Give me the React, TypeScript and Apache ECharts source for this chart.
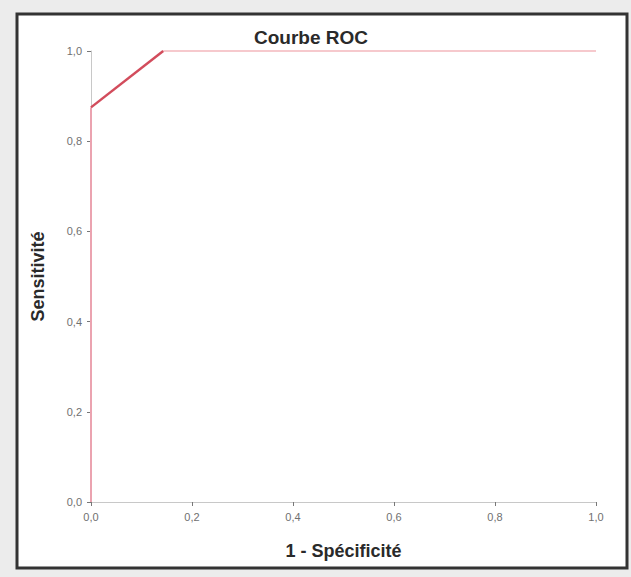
import React, { useEffect, useRef } from "react";
import * as echarts from "echarts";

const fpr = [0, 0, 0.143, 1];
const tpr = [0, 0.875, 1, 1];
const segmentColors = ["#eba3b0", "#d24c5c", "#f6c9cd"];
const segmentWidths = [2, 2.5, 2];

const fmt = (v: number) => v.toFixed(1).replace(".", ",");
const FONT = "'Liberation Sans', Arial, sans-serif";

export default function App() {
  const ref = useRef<HTMLDivElement>(null);
  useEffect(() => {
    document.body.style.margin = "0";
    const chart = echarts.init(ref.current!, undefined, { renderer: "svg" });
    const series = segmentColors.map((c, i) => ({
      type: "line",
      data: [
        [fpr[i], tpr[i]],
        [fpr[i + 1], tpr[i + 1]],
      ],
      showSymbol: false,
      symbol: "none",
      lineStyle: { color: c, width: segmentWidths[i] },
      z: i === 1 ? 3 : 2,
    }));
    chart.setOption({
      animation: false,
      backgroundColor: "#ececec",
      graphic: [
        {
          type: "rect",
          shape: { x: 17, y: 14, width: 610, height: 554 },
          style: { fill: "#ffffff", stroke: "#333333", lineWidth: 3 },
          z: -10,
          silent: true,
        },
        {
          type: "text",
          x: 311,
          y: 37,
          style: {
            text: "Courbe ROC",
            font: `bold 19px ${FONT}`,
            fill: "#2a2a2a",
            textAlign: "center",
            textVerticalAlign: "middle",
          },
        },
      ],
      grid: { left: 91, right: 35, top: 51, bottom: 75 },
      xAxis: {
        type: "value",
        min: 0,
        max: 1,
        interval: 0.2,
        name: "1 - Spécificité",
        nameLocation: "middle",
        nameGap: 40,
        nameTextStyle: {
          fontFamily: FONT,
          fontWeight: "bold",
          fontSize: 18,
          color: "#2a2a2a",
        },
        axisLine: { show: true, lineStyle: { color: "#c8c8c8", width: 1 } },
        axisTick: { show: true, length: 4, lineStyle: { color: "#777" } },
        axisLabel: {
          formatter: (v: number) => fmt(v),
          color: "#707070",
          fontSize: 11,
          margin: 9,
          fontFamily: FONT,
          showMinLabel: true,
          showMaxLabel: true,
        },
        splitLine: { show: false },
      },
      yAxis: {
        type: "value",
        min: 0,
        max: 1,
        interval: 0.2,
        name: "Sensitivité",
        nameLocation: "middle",
        nameGap: 44,
        nameRotate: 90,
        nameTextStyle: {
          fontFamily: FONT,
          fontWeight: "bold",
          fontSize: 18,
          color: "#2a2a2a",
        },
        axisLine: { show: true, lineStyle: { color: "#c8c8c8", width: 1 } },
        axisTick: { show: true, length: 4, lineStyle: { color: "#777" } },
        axisLabel: {
          formatter: (v: number) => fmt(v),
          color: "#707070",
          fontSize: 11,
          margin: 9,
          fontFamily: FONT,
        },
        splitLine: { show: false },
      },
      series,
    });
    return () => chart.dispose();
  }, []);
  return <div ref={ref} style={{ width: 631, height: 577 }} />;
}
